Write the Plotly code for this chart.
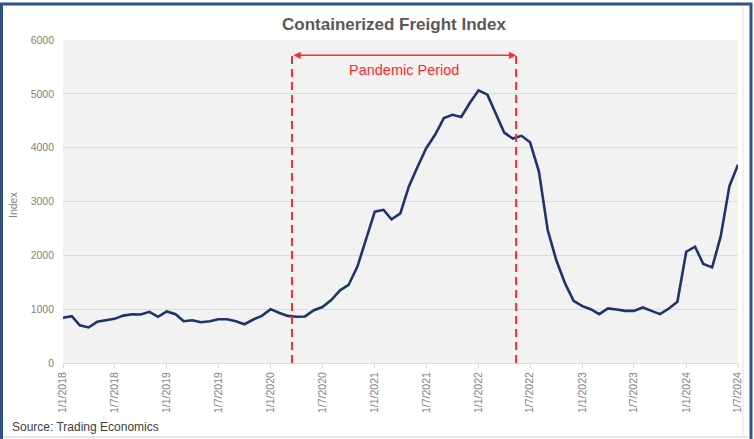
import plotly.graph_objects as go
import pandas as pd

# Monthly dates Jan 2018 - Jul 2024
dates = pd.date_range("2018-01-01", "2024-07-01", freq="MS").strftime("%Y-%m-%d").tolist()

index_values = [
    840, 870, 700, 660, 765, 800, 820, 880, 905, 900, 950, 857,   # 2018
    957, 905, 776, 795, 758, 776, 814, 814, 776, 720, 808, 875,   # 2019
    1000, 930, 875, 860, 865, 980, 1040, 1170, 1350, 1450, 1790, 2290,  # 2020
    2810, 2845, 2670, 2780, 3280, 3650, 3990, 4240, 4550, 4610, 4570, 4830,  # 2021
    5065, 4985, 4640, 4280, 4170, 4220, 4100, 3560, 2470, 1912, 1478, 1155,  # 2022
    1056, 994, 907, 1013, 994, 968, 968, 1031, 968, 907, 1013, 1136,  # 2023
    2067, 2160, 1838, 1776, 2346, 3290, 3681,  # 2024
]

tick_dates = ["2018-01-01", "2018-07-01", "2019-01-01", "2019-07-01", "2020-01-01",
              "2020-07-01", "2021-01-01", "2021-07-01", "2022-01-01", "2022-07-01",
              "2023-01-01", "2023-07-01", "2024-01-01", "2024-07-01"]
tick_labels = ["1/1/2018", "1/7/2018", "1/1/2019", "1/7/2019", "1/1/2020",
               "1/7/2020", "1/1/2021", "1/7/2021", "1/1/2022", "1/7/2022",
               "1/1/2023", "1/7/2023", "1/1/2024", "1/7/2024"]

pandemic_start = "2020-03-16"
pandemic_end = "2022-05-13"
pandemic_label = "Pandemic Period"

title_text = "Containerized Freight Index"
source_text = "Source: Trading Economics"

RED = "#FF2A2A"
NAVY = "#1F3468"

fig = go.Figure()
fig.add_trace(go.Scatter(
    x=dates, y=index_values, mode="lines",
    line=dict(color=NAVY, width=2.6),
    hoverinfo="x+y", showlegend=False,
))

W, H = 754, 439
ml, mr, mt, mb = 63, 16, 40, 76
pw, ph = W - ml - mr, H - mt - mb

def px_x(x):
    return (x - ml) / pw

def px_y(y):
    return (H - mb - y) / ph

shapes = []
for d in (pandemic_start, pandemic_end):
    shapes.append(dict(type="line", xref="x", yref="paper", x0=d, x1=d,
                       y0=0, y1=px_y(51), line=dict(color=RED, width=2, dash="8px,5px")))
# outer border
shapes.append(dict(type="rect", xref="paper", yref="paper",
                   x0=px_x(1.5), x1=px_x(751), y0=px_y(447), y1=px_y(4),
                   line=dict(color="#2E5384", width=3), fillcolor="rgba(0,0,0,0)", layer="above"))
shapes.append(dict(type="line", xref="paper", yref="paper",
                   x0=px_x(3), x1=px_x(750), y0=px_y(437), y1=px_y(437),
                   line=dict(color="#C8C8C8", width=1)))
shapes.append(dict(type="line", xref="paper", yref="paper",
                   x0=px_x(743), x1=px_x(743), y0=px_y(437), y1=px_y(6),
                   line=dict(color="#E4E4E4", width=1)))

annotations = [
    dict(text=f"<b>{title_text}</b>", xref="paper", yref="paper",
         x=px_x(394), y=px_y(25), showarrow=False,
         font=dict(family="Liberation Sans, Arial", size=17, color="#595959"),
         xanchor="center", yanchor="middle"),
    dict(text=pandemic_label, xref="paper", yref="paper",
         x=px_x(404), y=px_y(70), showarrow=False,
         font=dict(family="Liberation Sans, Arial", size=14.5, color=RED),
         xanchor="center", yanchor="middle"),
    # double-headed arrow
    dict(x=pandemic_end, y=px_y(55.3), ax=pandemic_start, ay=px_y(55.3),
         xref="x", yref="y domain", axref="x", ayref="y domain",
         text="", showarrow=True, arrowhead=2, arrowside="end+start",
         arrowsize=0.9, arrowwidth=1.6, arrowcolor=RED, standoff=0, startstandoff=0),
    dict(text=source_text, xref="paper", yref="paper",
         x=px_x(10), y=px_y(427), showarrow=False,
         font=dict(family="Liberation Sans, Arial", size=12, color="#404040"),
         xanchor="left", yanchor="middle"),
    dict(text="Index", xref="paper", yref="paper",
         x=px_x(13), y=px_y(205), showarrow=False, textangle=-90,
         font=dict(family="Liberation Sans, Arial", size=10.5, color="#7F7F7F"),
         xanchor="center", yanchor="middle"),
]

fig.update_layout(
    width=W, height=H,
    margin=dict(l=ml, r=mr, t=mt, b=mb, autoexpand=False),
    paper_bgcolor="white",
    plot_bgcolor="#F2F2F2",
    shapes=shapes,
    annotations=annotations,
    showlegend=False,
    xaxis=dict(
        type="date",
        range=["2018-01-01", "2024-07-01"],
        tickmode="array", tickvals=tick_dates, ticktext=tick_labels,
        tickangle=-90,
        tickfont=dict(family="Liberation Sans, Arial", size=10.5, color="#7F7F7F"),
        showgrid=False,
        showline=True, linecolor="#D9D9D9", linewidth=1,
        ticks="outside", ticklen=4, tickcolor="#D9D9D9",
        zeroline=False,
    ),
    yaxis=dict(
        range=[0, 6000],
        tickvals=[0, 1000, 2000, 3000, 4000, 5000, 6000],
        tickfont=dict(family="Liberation Sans, Arial", size=10.5, color="#7F7F7F"),
        showgrid=True, gridcolor="#DCDCDC", gridwidth=1,
        zeroline=False, showline=False,
        ticks="", ticklabelstandoff=8,
    ),
)

fig.write_html("out.html", config={"displayModeBar": False},
               post_script="document.body.style.margin='0';document.body.style.overflow='hidden';")
